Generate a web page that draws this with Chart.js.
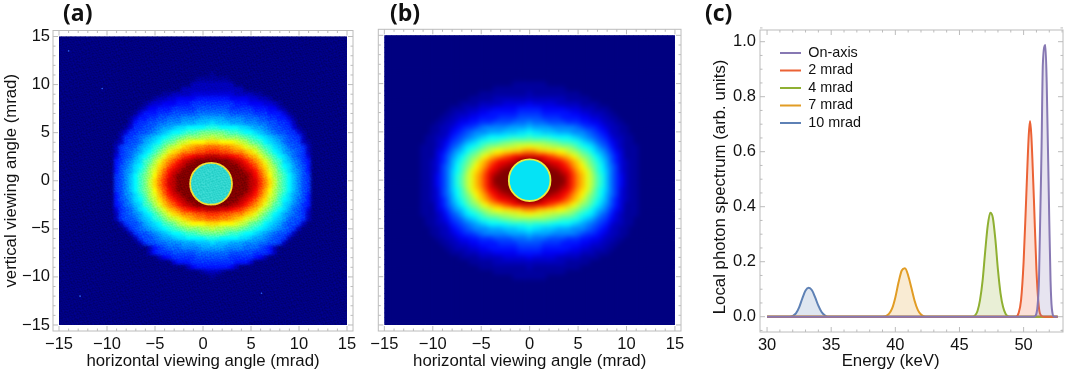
<!DOCTYPE html>
<html>
<head>
<meta charset="utf-8">
<script src="https://cdn.jsdelivr.net/npm/chart.js@4"></script>
<style>
  body { margin: 0; background: #fff; }
  #page { position: relative; width: 1065px; height: 372px; overflow: hidden; }
  canvas { position: absolute; left: 0; top: 0; }
  .tag { position: absolute; top: -4px; font: 700 23px "Open Sans", sans-serif; color: #111; }
</style>
</head>
<body>
<div id="page">
  <canvas id="panelA" width="1065" height="372"></canvas>
  <canvas id="panelB" width="1065" height="372"></canvas>
  <canvas id="panelC" width="1065" height="372"></canvas>
  <div class="tag" style="left:63px">(a)</div>
  <div class="tag" style="left:390px">(b)</div>
  <div class="tag" style="left:705px">(c)</div>
</div>
<script>
// levels are one character each, 0-9 then a-z (z = top of the colour map)
// panel a: rows from y=15 down in 0.5 steps, each row reads outward from x=1
const rowsA = [
  "", "", "", "", "", "", "", "",
  "1",
  "1111",
  "22222",
  "2222222",
  "33333222211",
  "5555444433221",
  "666665554443321",
  "7777666665554421",
  "88887777766655531",
  "aaa999988877665531",
  "cbbbaaa99988776652",
  "eeddddccbaa98776631",
  "hhhgffeddcba98776631",
  "kjjiiihgfedcba987662",
  "nnmmmlkjhgfdcba877621",
  "rrqqponlkjhfecba87762",
  "ttssrqqonljhfdca98762",
  "xxwwvutrpoljhfdca8763",
  "zzzzyxwusqoljgfcb9865",
  "zzzzzzxwuspnkifdca875",
  "zzzzzzzxwuroljgeca975",
  "zzzzzzzzxvspmjhfdb976",
  "zzzzzzzzxwtqnkhfdb976",
  "zzzzzzzzxwtqnkhfdb976",
  "zzzzzzzzxvspmjhfdb976",
  "zzzzzzzxwuroljgeca975",
  "zzzzzzxwuspnkifdca875",
  "zzzzyxwusqoljgfcb9865",
  "xxwwvutrpoljhfdca8763",
  "ttssrqqonljhfdca98762",
  "rrqqponlkjhfecba87762",
  "nnmmmlkjhgfdcba87762",
  "kjjiiihgfedcba98762",
  "hhhgffeddcba987762",
  "eeddddccbaa987762",
  "cbbbaaa999887762",
  "aaa99998887652",
  "88887777766652",
  "777766666542",
  "666665553",
  "555542",
  "221",
  "1"
];
const diskA = [{ x: 0.84, y: -0.31 }];
const diskRadiusA = 2.18;
const specksA = [{ x: -10.5, y: 9.6 }, { x: -12.8, y: -12 }, { x: -14, y: 13.5 }, { x: 6.1, y: -11.7 }];

// grain of the measured image in panel a, a hand-typed tile
const grainA = [
  "101100101101001110100110",
  "010011010010110001011001",
  "110100110110010110100101",
  "001011001001101001011010",
  "100110110100010110010110",
  "011001001011101001101001",
  "101010110010010110110100",
  "010101001101100101001011",
  "110010110010011010010101",
  "001101001101100101101010",
  "101001011010011010010011",
  "010110100101100101101100",
  "100101101001011010010110",
  "011010010110100011101001",
  "110100101001011100010110",
  "001011010110100101101001",
  "010010101101001010110101",
  "101101010010110101001010",
  "100110101101001011010011",
  "011001010010110100101100",
  "110110100101001101100101",
  "001001011010110010011010",
  "100100110101001101101001",
  "011011001010110010010110"
];

// panel b: one quadrant, rows from y=0 up in 0.5 steps, each row reads outward from x=0
const rowsB = [
  "zzzzzzzzwtqoljgeb864211",
  "zzzzzzzywtqoljgeb864211",
  "zzzzzzywvspnlifdb863211",
  "zzzzyxwvtqomjhfda863211",
  "zzzwwvvtrpnkigeca753211",
  "wwvvtsqpomkihfdb9753111",
  "qqoonnmmkjigfdba8643111",
  "mllkkjjiihfedca87532111",
  "iiiihhgffeecba87643211",
  "feeeeddddcba9876532211",
  "dccbbbaaa999876542211",
  "baaaa9999987665432211",
  "98887777666554432211",
  "7776666555544332211",
  "666555555443322211",
  "55544444333222111",
  "433333222221111",
  "2222222211111",
  "21111111111",
  "11111111",
  "1111"
];
const diskB = [{ x: 0, y: 0 }];
const diskRadiusB = 2.15;

const angleTicks = [-15, -10, -5, 0, 5, 10, 15];
const angleMinor = [-14, -13, -12, -11, -9, -8, -7, -6, -4, -3, -2, -1, 1, 2, 3, 4, 6, 7, 8, 9, 11, 12, 13, 14];

// panel c
const energyTicks = [30, 35, 40, 45, 50];
const energyMinor = [31, 32, 33, 34, 36, 37, 38, 39, 41, 42, 43, 44, 46, 47, 48, 49, 51, 52, 53];
const photonTicks = [0, 0.2, 0.4, 0.6, 0.8, 1];
const photonMinor = [0.05, 0.1, 0.15, 0.25, 0.3, 0.35, 0.45, 0.5, 0.55, 0.65, 0.7, 0.75, 0.85, 0.9, 0.95, 1.05, -0.05];

const seriesNames = ["On-axis", "2 mrad", "4 mrad", "7 mrad", "10 mrad"];
const seriesColors = ["#8778b3", "#eb6235", "#8fb032", "#e19c24", "#5e81b5"];
const energyOnAxis = [30, 50.8, 51, 51.2, 51.4, 51.5, 51.7, 51.8, 52, 52.1, 52.2, 52.4, 52.65];
const photonOnAxis = [0, 0, 0.012, 0.14, 0.62, 0.92, 0.988, 0.85, 0.35, 0.13, 0.03, 0, 0];
const energy2 = [30, 49.4, 49.6, 49.8, 50, 50.2, 50.4, 50.5, 50.6, 50.8, 51, 51.2, 51.4, 51.6, 52.65];
const photon2 = [0, 0, 0.012, 0.06, 0.2, 0.43, 0.66, 0.712, 0.66, 0.43, 0.17, 0.03, 0.003, 0, 0];
const energy4 = [30, 46, 46.2, 46.4, 46.6, 46.8, 47, 47.2, 47.4, 47.6, 47.8, 48, 48.2, 48.4, 48.6, 48.8, 49, 52.65];
const photon4 = [0, 0, 0.004, 0.02, 0.06, 0.13, 0.235, 0.33, 0.378, 0.36, 0.28, 0.17, 0.085, 0.035, 0.01, 0.001, 0, 0];
const energy7 = [30, 39, 39.25, 39.5, 39.75, 40, 40.25, 40.5, 40.75, 41, 41.25, 41.5, 41.75, 42, 42.25, 42.5, 52.65];
const photon7 = [0, 0, 0.002, 0.01, 0.03, 0.07, 0.125, 0.168, 0.176, 0.15, 0.105, 0.058, 0.025, 0.008, 0.001, 0, 0];
const energy10 = [30, 31.75, 32, 32.25, 32.5, 32.75, 33, 33.25, 33.5, 33.75, 34, 34.25, 34.5, 34.75, 52.65];
const photon10 = [0, 0, 0.003, 0.012, 0.034, 0.067, 0.095, 0.105, 0.096, 0.07, 0.04, 0.017, 0.005, 0, 0];

const seriesEnergy = [energyOnAxis, energy2, energy4, energy7, energy10];
const seriesPhoton = [photonOnAxis, photon2, photon4, photon7, photon10];

const frameColor = "#bcbcbc";
const tickFont = { family: "'Liberation Sans'", size: 16.5 };
const titleFont = { family: "'Liberation Sans'", size: 16.8 };
const LEVELS = "0123456789abcdefghijklmnopqrstuvwxyz";

function clamp(v) {
  return Math.max(0, Math.min(1, v));
}

function jet(v) {
  const r = clamp(1.5 - Math.abs(4 * v - 3));
  const g = clamp(1.5 - Math.abs(4 * v - 2));
  const b = clamp(1.5 - Math.abs(4 * v - 1));
  return `rgb(${Math.round(r * 255)},${Math.round(g * 255)},${Math.round(b * 255)})`;
}

function levelColor(ch) {
  return jet(Math.max(0, LEVELS.indexOf(ch)) / 35);
}

function cellsA() {
  const points = [];
  for (let j = 0; j <= 60; j++) {
    const row = rowsA[j] || "";
    for (let c = 0; c <= 60; c++) {
      points.push({ x: -15 + c * 0.5, y: 15 - j * 0.5, level: row[Math.abs(c - 32)] || "0" });
    }
  }
  return points;
}

function cellsB() {
  const points = [];
  for (let j = -30; j <= 30; j++) {
    const row = rowsB[Math.abs(j)] || "";
    for (let c = -30; c <= 30; c++) {
      points.push({ x: c * 0.5, y: j * 0.5, level: row[Math.abs(c)] || "0" });
    }
  }
  return points;
}

// light frame with inward ticks on all four sides
function framePlugin(major, minor) {
  return {
    id: "frame",
    afterDraw(chart) {
      const { ctx, chartArea: a, scales } = chart;
      ctx.save();
      ctx.strokeStyle = frameColor;
      ctx.lineWidth = 1;
      ctx.strokeRect(a.left, a.top, a.right - a.left, a.bottom - a.top);
      const tick = (x1, y1, x2, y2) => {
        ctx.beginPath();
        ctx.moveTo(x1, y1);
        ctx.lineTo(x2, y2);
        ctx.stroke();
      };
      const mark = (values, len) => {
        values.x.forEach((v) => {
          const p = scales.x.getPixelForValue(v);
          tick(p, a.bottom, p, a.bottom - len);
          tick(p, a.top, p, a.top + len);
        });
        values.y.forEach((v) => {
          const p = scales.y.getPixelForValue(v);
          tick(a.left, p, a.left + len, p);
          tick(a.right, p, a.right - len, p);
        });
      };
      mark(major, 5);
      mark(minor, 2.5);
      ctx.restore();
    },
  };
}

function heatRegion(chart) {
  const { x, y } = chart.scales;
  const left = x.getPixelForValue(-15);
  const top = y.getPixelForValue(15);
  return [left, top, x.getPixelForValue(15) - left, y.getPixelForValue(-15) - top];
}

// cells stay inside +-15 mrad and get softened once drawn, before the disk goes on
function softenPlugin(blur) {
  return {
    id: "soften",
    beforeDatasetDraw(chart, args) {
      if (args.index !== 0) return;
      const [l, t, w, h] = heatRegion(chart);
      chart.ctx.save();
      chart.ctx.beginPath();
      chart.ctx.rect(l, t, w, h);
      chart.ctx.clip();
    },
    afterDatasetDraw(chart, args) {
      if (args.index !== 0) return;
      const [l, t, w, h] = heatRegion(chart);
      chart.ctx.filter = `blur(${blur}px)`;
      chart.ctx.drawImage(chart.canvas, l, t, w, h, l, t, w, h);
      chart.ctx.filter = "none";
      chart.ctx.restore();
    },
  };
}

const grainPlugin = {
  id: "grain",
  afterDatasetsDraw(chart) {
    const tile = document.createElement("canvas");
    tile.width = tile.height = grainA.length;
    const t = tile.getContext("2d");
    grainA.forEach((row, j) => {
      [...row].forEach((bit, i) => {
        t.fillStyle = bit === "1" ? "#fff" : "#000";
        t.fillRect(i, j, 1, 1);
      });
    });
    const { ctx } = chart;
    const [l, y0, w, h] = heatRegion(chart);
    const pattern = ctx.createPattern(tile, "repeat");
    pattern.setTransform(new DOMMatrix().rotate(23).scale(1.35));
    ctx.save();
    ctx.globalCompositeOperation = "soft-light";
    ctx.globalAlpha = 0.3;
    ctx.fillStyle = pattern;
    ctx.fillRect(l, y0, w, h);
    ctx.restore();
  },
};

// axis titles of panel c sit off-centre in the reference, so they hang on a data position
const titlesC = {
  id: "titlesC",
  afterDraw(chart) {
    const { ctx, scales } = chart;
    ctx.save();
    ctx.fillStyle = "#111";
    ctx.font = `${titleFont.size}px ${titleFont.family}`;
    ctx.textAlign = "center";
    ctx.textBaseline = "middle";
    ctx.fillText("Energy (keV)", scales.x.getPixelForValue(39.63), 361);
    ctx.translate(720.7, scales.y.getPixelForValue(0.472));
    ctx.rotate(-Math.PI / 2);
    ctx.fillText("Local photon spectrum (arb. units)", 0, 0);
    ctx.restore();
  },
};

function axis(position, min, max, ticks, format, opts) {
  return {
    type: "linear",
    position,
    min,
    max,
    grid: { display: false, drawTicks: false },
    border: { display: false },
    afterBuildTicks(scale) {
      scale.ticks = ticks.map((value) => ({ value }));
    },
    afterFit(scale) {
      if (position === "bottom") scale.height = opts.size;
      else scale.width = opts.size;
    },
    ticks: {
      display: opts.labels !== false,
      autoSkip: false,
      maxRotation: 0,
      padding: opts.tickPad,
      color: "#111",
      font: tickFont,
      callback: format,
    },
    title: opts.title
      ? { display: true, text: opts.title, color: "#111", font: titleFont, padding: opts.titlePad }
      : { display: false },
  };
}

const angleLabel = (v) => (v < 0 ? "\u2212" + -v : String(v));

function heatChart(id, cells, disk, diskRadius, diskFill, diskEdge, specks, blur, padding, yOpts, extra) {
  const radius = (chart) => {
    const s = chart.scales.x;
    return Math.abs(s.getPixelForValue(diskRadius) - s.getPixelForValue(0));
  };
  const cellRadius = (chart) => {
    const s = chart.scales.x;
    return (Math.abs(s.getPixelForValue(0.5) - s.getPixelForValue(0)) + 0.6) / Math.SQRT2;
  };
  return new Chart(document.getElementById(id), {
    type: "scatter",
    data: {
      datasets: [
        {
          data: cells,
          order: 3,
          pointStyle: "rect",
          pointBorderWidth: 0,
          pointRadius: (c) => cellRadius(c.chart),
          pointBackgroundColor: cells.map((p) => levelColor(p.level)),
        },
        {
          data: disk,
          order: 2,
          pointRadius: (c) => radius(c.chart),
          pointBackgroundColor: diskFill,
          pointBorderColor: diskEdge,
          pointBorderWidth: 1.8,
        },
        {
          data: specks,
          order: 1,
          pointRadius: 0.8,
          pointBorderWidth: 0,
          pointBackgroundColor: "#2f6cff",
        },
      ],
    },
    options: {
      responsive: false,
      animation: false,
      events: [],
      layout: { padding },
      plugins: { legend: { display: false }, tooltip: { enabled: false } },
      scales: {
        x: axis("bottom", -15.625, 15.625, angleTicks, angleLabel, {
          size: 41, tickPad: 4, title: "horizontal viewing angle (mrad)", titlePad: { top: 0, bottom: 1 },
        }),
        y: axis("left", -15.625, 15.625, angleTicks, angleLabel, yOpts),
      },
    },
    plugins: [
      softenPlugin(blur),
      ...extra,
      framePlugin({ x: angleTicks, y: angleTicks }, { x: angleMinor, y: angleMinor }),
    ],
  });
}

heatChart("panelA", cellsA(), diskA, diskRadiusA, "#2fd6cf", "#f2df35", specksA, 1.6,
  { left: 0, right: 712, top: 30.5, bottom: 0 },
  { size: 53, tickPad: 3, title: "vertical viewing angle (mrad)", titlePad: { top: 1, bottom: 0 } },
  [grainPlugin]);

heatChart("panelB", cellsB(), diskB, diskRadiusB, "#05e3f5", "#ecec40", [], 2.5,
  { left: 378.3, right: 384, top: 29.3, bottom: 0 },
  { size: 0, labels: false, tickPad: 0 }, []);

new Chart(document.getElementById("panelC"), {
  type: "line",
  data: {
    datasets: seriesNames.map((label, i) => ({
      label,
      data: seriesEnergy[i].map((x, k) => ({ x, y: seriesPhoton[i][k] })),
      borderColor: seriesColors[i],
      backgroundColor: seriesColors[i] + "33",
      borderWidth: 2,
      pointRadius: 0,
      cubicInterpolationMode: "monotone",
      fill: "origin",
    })),
  },
  options: {
    responsive: false,
    animation: false,
    events: [],
    layout: { padding: { left: 710, right: 2, top: 30, bottom: 0 } },
    plugins: {
      tooltip: { enabled: false },
      legend: {
        position: "chartArea",
        align: "start",
        labels: {
          usePointStyle: true,
          pointStyle: "line",
          pointStyleWidth: 21,
          boxHeight: 8,
          padding: 3.1,
          color: "#111",
          font: { family: "'Liberation Sans'", size: 14.4 },
        },
      },
    },
    scales: {
      x: axis("bottom", 29.45, 53.07, energyTicks, (v) => String(v), { size: 40, tickPad: 4 }),
      y: axis("left", -0.0556, 1.0425, photonTicks, (v) => v.toFixed(1), { size: 50, tickPad: 4 }),
    },
  },
  plugins: [
    {
      id: "legendSpot",
      afterLayout(chart) {
        chart.legend.left = 776.9;
        chart.legend.top = 42.7;
      },
    },
    titlesC,
    framePlugin({ x: energyTicks, y: photonTicks }, { x: energyMinor, y: photonMinor }),
  ],
});
</script>
</body>
</html>
